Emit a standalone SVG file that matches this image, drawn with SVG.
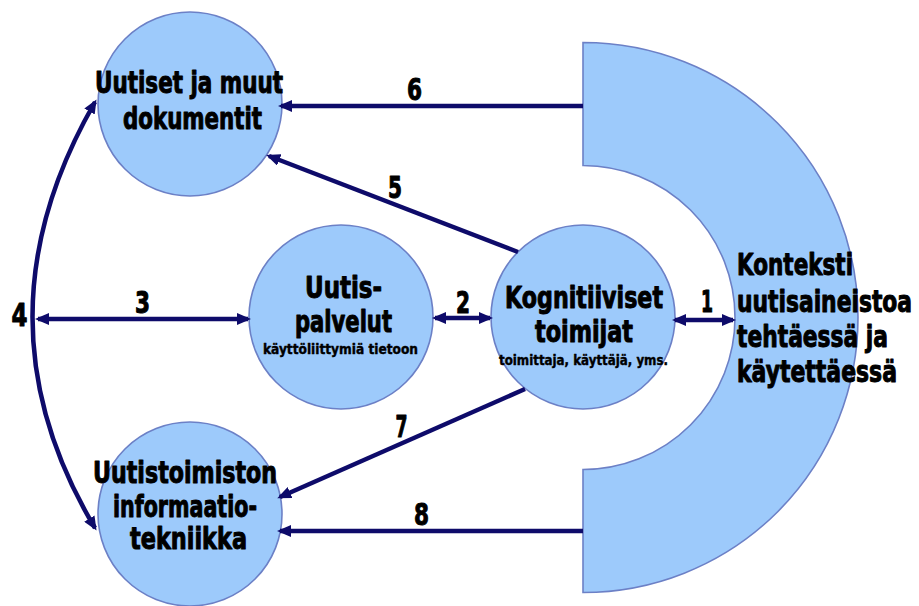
<svg xmlns="http://www.w3.org/2000/svg" width="919" height="606" viewBox="0 0 919 606">
  <style>
    .node { fill: #9dcafb; stroke: #6c80c6; stroke-width: 1.6; }
    .conn { fill: none; stroke: #0e0b6a; stroke-width: 4.5; }
    text { font-family: Impact, "Liberation Sans Narrow", "DejaVu Sans Condensed", "Liberation Sans", sans-serif; font-weight: bold; fill: #000; stroke: #000; stroke-width: 1; stroke-linejoin: round; }
    .t { font-size: 31px; text-anchor: middle; }
    .s { font-size: 14px; text-anchor: middle; stroke-width: 0.4; }
    .k { font-size: 31px; }
    .n { font-size: 30px; text-anchor: middle; }
  </style>
  <defs>
    <marker id="arrow" viewBox="0 0 14 12" refX="11" refY="6" markerWidth="14" markerHeight="12" markerUnits="userSpaceOnUse" orient="auto-start-reverse">
      <path d="M0,0 L14,6 L0,12 Z" fill="#0e0b6a"/>
    </marker>
  </defs>

  <!-- context: half ring around the cognitive actors -->
  <g id="konteksti">
    <path class="node" d="M583,42.5 A275,275 0 0 1 583,592.5 L583,469.5 A152,152 0 0 0 583,165.5 Z"/>
    <text class="k" x="737" y="275" textLength="116" lengthAdjust="spacingAndGlyphs">Konteksti</text>
    <text class="k" x="737" y="312" textLength="175" lengthAdjust="spacingAndGlyphs">uutisaineistoa</text>
    <text class="k" x="737" y="347" textLength="151" lengthAdjust="spacingAndGlyphs">tehtäessä ja</text>
    <text class="k" x="737" y="382" textLength="160" lengthAdjust="spacingAndGlyphs">käytettäessä</text>
  </g>

  <g id="uutiset">
    <circle class="node" cx="190" cy="104" r="92"/>
    <text class="t" x="189" y="93" textLength="188" lengthAdjust="spacingAndGlyphs">Uutiset ja muut</text>
    <text class="t" x="192.5" y="129" textLength="139" lengthAdjust="spacingAndGlyphs">dokumentit</text>
  </g>

  <g id="palvelut">
    <circle class="node" cx="341" cy="317" r="92"/>
    <text class="t" x="343.5" y="298" textLength="77" lengthAdjust="spacingAndGlyphs">Uutis-</text>
    <text class="t" x="343.5" y="332" textLength="97" lengthAdjust="spacingAndGlyphs">palvelut</text>
    <text class="s" x="340.5" y="354" textLength="155" lengthAdjust="spacingAndGlyphs">käyttöliittymiä tietoon</text>
  </g>

  <g id="toimijat">
    <circle class="node" cx="583" cy="317" r="92"/>
    <text class="t" x="584" y="308" textLength="158" lengthAdjust="spacingAndGlyphs">Kognitiiviset</text>
    <text class="t" x="584" y="342" textLength="98" lengthAdjust="spacingAndGlyphs">toimijat</text>
    <text class="s" x="583.5" y="365" textLength="169" lengthAdjust="spacingAndGlyphs">toimittaja, käyttäjä, yms.</text>
  </g>

  <g id="tekniikka">
    <circle class="node" cx="190" cy="514" r="92"/>
    <text class="t" x="185" y="483" textLength="184" lengthAdjust="spacingAndGlyphs">Uutistoimiston</text>
    <text class="t" x="185" y="517" textLength="144" lengthAdjust="spacingAndGlyphs">informaatio-</text>
    <text class="t" x="188.5" y="549" textLength="117" lengthAdjust="spacingAndGlyphs">tekniikka</text>
  </g>

  <g id="connectors">
    <path class="conn" d="M675,320 L733,320" marker-start="url(#arrow)" marker-end="url(#arrow)"/>
    <path class="conn" d="M435,318 L490,318" marker-start="url(#arrow)" marker-end="url(#arrow)"/>
    <path class="conn" d="M38,319 L248,319" marker-start="url(#arrow)" marker-end="url(#arrow)"/>
    <path class="conn" d="M95,102 Q-30,319 95,528" marker-start="url(#arrow)" marker-end="url(#arrow)"/>
    <path class="conn" d="M518,252 L269,156" marker-end="url(#arrow)"/>
    <path class="conn" d="M583,106 L281,106" marker-end="url(#arrow)"/>
    <path class="conn" d="M525,389 L280,497" marker-end="url(#arrow)"/>
    <path class="conn" d="M583,531 L280,531" marker-end="url(#arrow)"/>
    <text class="n" x="707" y="312" textLength="12" lengthAdjust="spacingAndGlyphs">1</text>
    <text class="n" x="463" y="313" textLength="14" lengthAdjust="spacingAndGlyphs">2</text>
    <text class="n" x="142.5" y="313" textLength="15" lengthAdjust="spacingAndGlyphs">3</text>
    <text class="n" x="19.5" y="326" style="font-size:32px" textLength="16" lengthAdjust="spacingAndGlyphs">4</text>
    <text class="n" x="395" y="198" textLength="14" lengthAdjust="spacingAndGlyphs">5</text>
    <text class="n" x="414.5" y="100" textLength="15" lengthAdjust="spacingAndGlyphs">6</text>
    <text class="n" x="401.5" y="437" textLength="12" lengthAdjust="spacingAndGlyphs">7</text>
    <text class="n" x="421.5" y="525" textLength="15" lengthAdjust="spacingAndGlyphs">8</text>
  </g>
</svg>
